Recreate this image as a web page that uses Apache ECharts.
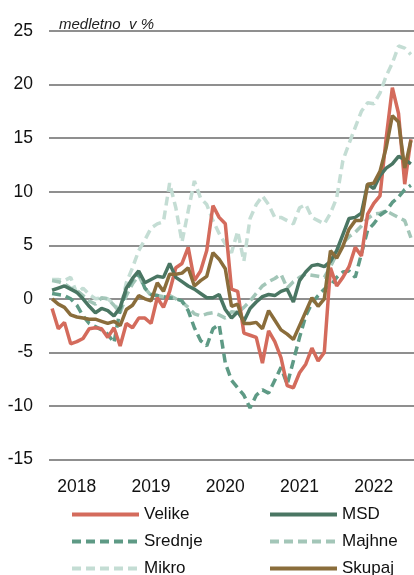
<!DOCTYPE html>
<html>
<head>
<meta charset="utf-8">
<script src="https://cdn.jsdelivr.net/npm/echarts@6/dist/echarts.min.js"></script>
<style>
  html, body { margin: 0; padding: 0; background: #fff; }
  #chart { width: 414px; height: 575px; }
</style>
</head>
<body>
<div id="chart"></div>
<script>
// mesecni podatki, sep 2017 - jul 2022
var startYear = 2017, startMonth = 9, nMonths = 59;
var months = [];
for (var k = 0; k < nMonths; k++) {
  var m = (startMonth - 1 + k) % 12 + 1;
  var y = startYear + Math.floor((startMonth - 1 + k) / 12);
  months.push(y + '-' + (m < 10 ? '0' + m : m));
}

var velike = [-0.9, -2.8, -2.2, -4.2, -4.0, -3.7, -2.8, -2.7, -2.8, -3.6, -2.7, -4.4, -2.3, -2.7, -1.8, -1.8, -2.3, 0.1, -0.8, 0.7,
  2.9, 3.3, 4.8, 1.7, 2.6, 4.5, 8.7, 7.6, 7.0, 0.9, 0.7, -3.2, -3.4, -3.6, -6.0, -3.0, -4.0, -5.5, -8.1, -8.3,
  -6.9, -6.1, -4.6, -5.8, -5.0, 2.9, 1.2, 2.0, 3.0, 4.8, 4.0, 7.9, 8.9, 9.6, 15.0, 19.7, 17.3, 10.7, 14.9];
var msd = [0.8, 1.0, 1.2, 0.9, 0.6, 0.0, -0.7, -1.3, -0.9, -1.1, -1.6, -0.8, 1.0, 1.9, 2.6, 1.5, 1.8, 2.1, 2.0, 3.3,
  2.0, 1.6, 1.2, 0.9, 0.5, 0.1, 0.1, 0.4, -1.0, -1.8, -1.2, -2.1, -0.9, -0.3, 0.2, 0.4, 0.3, 0.7, 0.9, -0.3,
  1.7, 2.5, 3.1, 3.2, 3.0, 3.5, 4.5, 6.0, 7.5, 7.6, 8.0, 10.7, 10.3, 11.5, 12.2, 12.6, 13.3, 13.0, 12.6];
var srednje = [0.5, 0.4, 0.3, 0.0, -0.6, -1.6, -2.3, -2.6, -2.9, -3.3, -4.1, -1.0, 0.8, 1.8, 2.4, 1.0, 0.4, 0.3, 0.2, 0.1,
  0.0, -0.2, -1.1, -2.7, -3.9, -4.4, -2.8, -2.4, -6.0, -7.6, -8.3, -9.0, -10.2, -9.0, -8.5, -8.8, -7.6, -6.4, -8.0, -5.8,
  -3.6, -1.6, -0.4, 0.3, 0.9, 1.2, 2.0, 2.5, 2.6, 2.0, 4.2, 6.4, 7.0, 7.8, 8.2, 9.0, 9.5, 10.2, 10.6];
var majhne = [1.7, 1.6, 1.4, 1.0, 0.8, 0.3, -0.2, -0.5, 0.1, 0.0, -0.6, -1.3, 0.3, 1.4, 2.2, 1.0, 0.3, 0.3, 0.2, 0.3,
  0.0, -0.3, -0.8, -1.4, -1.6, -1.4, -1.3, -1.5, -1.8, -1.2, -1.3, -0.8, -0.2, 0.5, 1.2, 1.6, 1.9, 2.3, 1.0, 1.6,
  2.0, 2.3, 2.2, 2.1, 2.0, 3.0, 4.2, 5.2, 5.8, 6.2, 6.8, 7.5, 7.9, 8.0, 8.2, 7.9, 7.6, 7.3, 5.7];
var mikro = [1.8, 1.8, 1.7, 2.0, 0.5, 1.0, 0.4, 0.0, 0.1, 0.0, -0.5, -1.1, 1.5, 2.9, 4.5, 5.5, 6.6, 7.0, 7.2, 10.8,
  8.5, 5.3, 8.2, 11.0, 9.4, 8.8, 7.3, 6.1, 5.1, 4.3, 6.3, 3.5, 7.5, 8.8, 9.6, 8.8, 7.6, 7.6, 7.3, 7.0,
  8.5, 8.8, 7.6, 7.3, 7.0, 8.0, 9.4, 12.9, 14.5, 16.0, 17.5, 18.3, 18.2, 19.2, 20.8, 22.0, 23.6, 23.4, 22.8];
var skupaj = [0.0, -0.5, -0.8, -1.5, -1.7, -1.8, -1.9, -1.9, -2.1, -2.3, -2.1, -2.5, -1.0, -0.6, 0.3, 0.0, -0.2, 1.5, 0.7, 2.3,
  2.3, 2.4, 2.9, 1.2, 1.7, 2.1, 4.3, 3.7, 2.8, -0.7, -0.5, -2.3, -2.3, -2.2, -2.8, -1.1, -2.0, -2.9, -3.3, -3.8,
  -2.5, -1.2, 0.1, -0.7, 0.0, 4.5, 3.8, 4.9, 6.5, 7.3, 7.3, 10.7, 10.8, 11.9, 14.1, 17.1, 16.5, 12.2, 14.8];

var font = '"Liberation Sans", Arial, sans-serif';

function line(name, data, color, dashed) {
  return {
    name: name,
    type: 'line',
    data: data,
    symbol: 'none',
    animation: false,
    lineStyle: { color: color, width: 3.5, type: dashed ? [9, 5] : 'solid' },
    itemStyle: { color: color }
  };
}

function legendCol(left, names) {
  return {
    left: left, top: 506, height: 90, orient: 'vertical', padding: 0,
    itemWidth: 67, itemHeight: 14, itemGap: 10,
    itemStyle: { opacity: 0 },
    lineStyle: { width: 4 },
    data: names,
    textStyle: { fontSize: 17, lineHeight: 16, color: '#111', fontFamily: font, padding: [0, 0, 0, 0] }
  };
}

var chart = echarts.init(document.getElementById('chart'));
chart.setOption({
  backgroundColor: '#fff',
  textStyle: { fontFamily: font },
  title: {
    text: 'medletno  v %',
    left: 54, top: 12,
    textStyle: { fontFamily: font, fontStyle: 'italic', fontWeight: 'normal', fontSize: 15, color: '#222' }
  },
  grid: { left: 49, right: 0, top: 31, bottom: 115.5 },
  xAxis: {
    type: 'category',
    data: months,
    boundaryGap: true,
    axisLine: { show: false },
    axisTick: { show: false },
    axisLabel: {
      interval: function (i, v) { return v.slice(5) === '01'; },
      formatter: function (v) { return v.slice(0, 4); },
      fontSize: 17.5, color: '#111', margin: 19, fontFamily: font
    }
  },
  yAxis: {
    type: 'value',
    min: -15, max: 25, interval: 5,
    axisLine: { show: false },
    axisTick: { show: false },
    axisLabel: { fontSize: 17.5, color: '#111', margin: 16, fontFamily: font },
    splitLine: { lineStyle: { color: '#8f8f8f', width: 1.8 } }
  },
  legend: [
    legendCol(70, ['Velike', 'Srednje', 'Mikro']),
    legendCol(268, ['MSD', 'Majhne', 'Skupaj'])
  ],
  series: [
    line('Mikro', mikro, '#c4ddd4', true),
    line('Majhne', majhne, '#a3c6b8', true),
    line('Srednje', srednje, '#5e9a85', true),
    line('Velike', velike, '#d46b5c', false),
    line('MSD', msd, '#4a7663', false),
    line('Skupaj', skupaj, '#8a6d3b', false)
  ]
});
</script>
</body>
</html>
